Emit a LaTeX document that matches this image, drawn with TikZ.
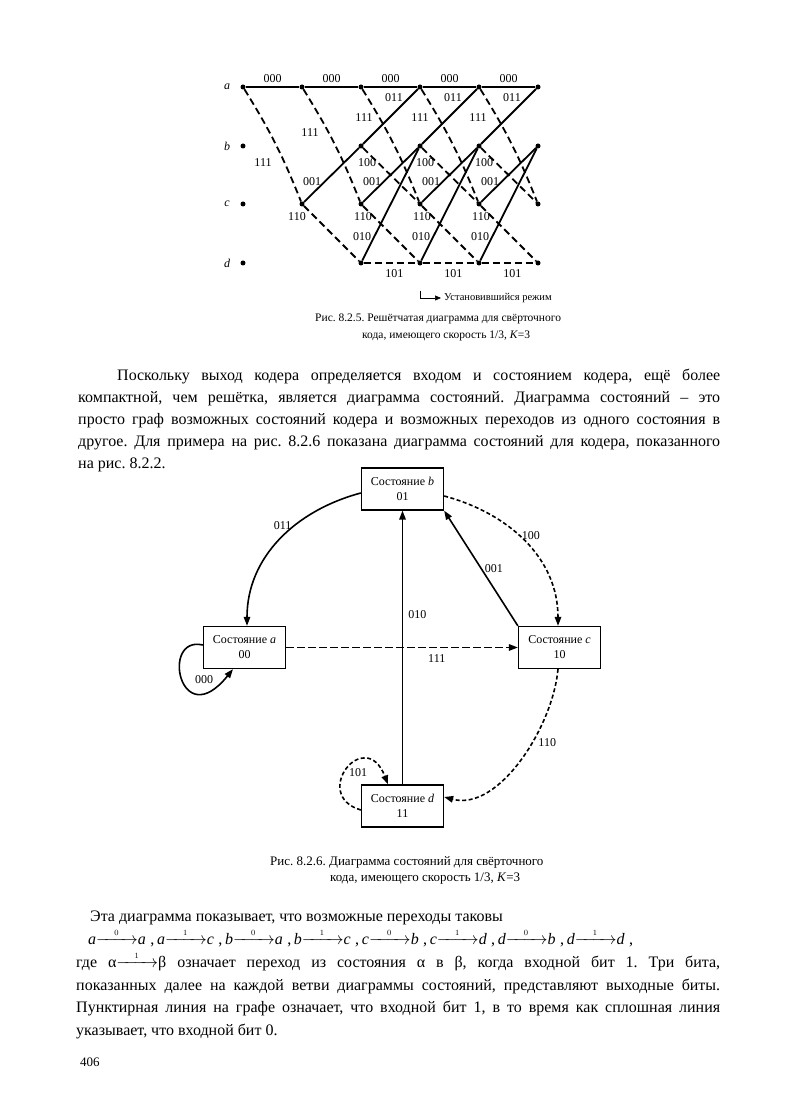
\documentclass[tikz,border=0pt]{standalone}
\usepackage{amsmath}
\usepackage{fontspec}
\setmainfont{Liberation Serif}
\usetikzlibrary{arrows.meta,positioning}
\newcommand{\tr}[1]{$\xrightarrow{\hspace{14.5pt}\scriptscriptstyle #1\hspace{14.5pt}}$}
\frenchspacing

\begin{document}
\begin{tikzpicture}[x=1pt,y=1pt,
  >={Triangle[length=9pt,width=6.5pt]},
  dot/.style={circle,fill,inner sep=0pt,minimum size=5pt},
  tline/.style={line width=1.8pt},
  tdash/.style={line width=1.8pt,dash pattern=on 7pt off 4pt},
  tlbl/.style={font=\fontsize{12}{12}\selectfont,inner sep=0pt},
  rowlbl/.style={font=\fontsize{12}{12}\selectfont\itshape,inner sep=0pt},
  state/.style={draw,line width=1.3pt,minimum width=82pt,minimum height=42pt,
    inner sep=1pt,align=center,font=\fontsize{12}{15}\selectfont},
  edge/.style={line width=1.6pt,->},
  dedge/.style={line width=1.6pt,->,dash pattern=on 4pt off 2.5pt},
  ldedge/.style={line width=1.6pt,->,dash pattern=on 8pt off 3pt},
  body/.style={font=\fontsize{16}{22}\selectfont,inner sep=0pt,anchor=base west},
  caption/.style={font=\fontsize{13}{16}\selectfont,inner sep=0pt,anchor=base west},
]
\useasboundingbox (0,0) rectangle (796,1100);

% --- trellis ---
\foreach \r/\y in {a/1013,b/954,c/896,d/837}
  \foreach \t in {0,2,3,4,5}
    \node[dot] (\r\t) at ({243+59*\t},\y) {};
\node[dot] (a1) at (302,1013) {};
\node[dot] (c1) at (302,896) {};
\foreach \r/\y in {a/1013,b/954,c/896,d/837}
  \node[rowlbl] at (227,\y) {\r};

\foreach \t [count=\u from 1] in {0,...,4}{
  \draw[tline] (a\t) -- node[tlbl,above=3pt] {000} (a\u);
  \draw[tdash] (a\t) to[bend left=5] (c\u);
}
\foreach \t [count=\u from 2] in {1,...,4}{
  \draw[tline] (c\t) -- (b\u);
  \draw[tdash] (c\t) -- (d\u);
}
\foreach \t [count=\u from 3] in {2,3,4}{
  \draw[tline] (b\t) -- (a\u);
  \draw[tdash] (b\t) -- (c\u);
  \draw[tline] (d\t) -- (b\u);
  \draw[tdash] (d\t) -- node[tlbl,pos=0.57,below=6pt] {101} (d\u);
}
% branch labels
\foreach \x/\y in {263/937,310/967,364/982,420/982,478/982}
  \node[tlbl] at (\x,\y) {111};
\foreach \x in {394,453,512} \node[tlbl] at (\x,1002) {011};
\foreach \x in {367,425,484} \node[tlbl] at (\x,937) {100};
\foreach \x in {312,372,431,490} \node[tlbl] at (\x,918) {001};
\foreach \x in {297,363,422,481} \node[tlbl] at (\x,883) {110};
\foreach \x in {362,421,480} \node[tlbl] at (\x,863) {010};

% steady state marker
\coordinate (ss) at (420,809);
\node[anchor=west,font=\fontsize{10.5}{12}\selectfont,inner sep=0pt] (steady) at (444,802) {Установившийся режим};
\draw[line width=0.6pt,-{Triangle[length=6pt,width=5pt]}] (ss) |- ([xshift=-3pt]steady.west);

\node[caption,font=\fontsize{11.5}{14}\selectfont] (cap1) at (315,778) {Рис. 8.2.5. Решётчатая диаграмма для свёрточного};
\node[caption,font=\fontsize{11.5}{14}\selectfont] (cap1b) at (362,761) {кода, имеющего скорость 1/3, \textit{K}=3};

% --- text ---
\node[body,text width=642pt,align=justify] (par1) at (78,719) {\hspace*{39pt}Поскольку
выход кодера определяется входом и состоянием кодера, ещё более\linebreak
компактной, чем решётка, является диаграмма состояний. Диаграмма состояний – это\linebreak
просто граф возможных состояний кодера и возможных переходов из одного состояния в\linebreak
другое. Для примера на рис. 8.2.6 показана диаграмма состояний для кодера, показанного\linebreak
на рис. 8.2.2.};

% --- state diagram ---
\node[state] (sb) at (402.5,611) {Состояние \textit{b}\\01};
\node[state] (sa) at (244.5,452.5) {Состояние \textit{a}\\00};
\node[state] (sc) at (559.5,452.5) {Состояние \textit{c}\\10};
\node[state] (sd) at (402.5,294) {Состояние \textit{d}\\11};

\draw[edge] ([yshift=-4pt]sb.west) to[out=195,in=90]
  node[tlbl,pos=0.38,left=3pt] {011} ([xshift=2.5pt]sa.north);
\draw[dedge] ([yshift=-7pt]sb.east) to[out=-15,in=90]
  node[tlbl,pos=0.45,right=2pt] {100} ([xshift=-1.5pt]sc.north);
\draw[edge] (sc.north west) -- node[tlbl,right=3pt] {001} (sb.south east);
\draw[edge] (sd.north) -- node[tlbl,pos=0.62,right=5pt] {010} (sb.south);
\draw[ldedge] (sa.east) -- node[tlbl,pos=0.65,below=6pt] {111} (sc.west);
\draw[edge] ([yshift=2.5pt]sa.west) .. controls (160,465) and (180,365) .. ([xshift=-11.5pt]sa.south);
\node[tlbl] (l000) at (204,420) {000};
\draw[dedge] ([xshift=-1.5pt]sc.south) to[out=-95,in=-15,looseness=0.85]
  node[tlbl,pos=0.4,right=6pt] {110} ([yshift=9pt]sd.east);
\draw[dedge] ([yshift=-4pt]sd.west) .. controls (310,305) and (365,375) .. ([xshift=-14.5pt]sd.north);
\node[tlbl] (l101) at (358,327) {101};

\node[caption] (cap2) at (270,234) {Рис. 8.2.6. Диаграмма состояний для свёрточного};
\node[caption] (cap2b) at (330,218) {кода, имеющего скорость 1/3, \textit{K}=3};

% --- text below ---
\node[body] (intro) at (90,178) {Эта диаграмма показывает, что возможные переходы таковы};
\node[body] (trans) at (88,155) {\textit{a}\tr{0}\textit{a}\;,\,\textit{a}\tr{1}\textit{c}\;,\,\textit{b}\tr{0}\textit{a}\;,\,\textit{b}\tr{1}\textit{c}\;,\,\textit{c}\tr{0}\textit{b}\;,\,\textit{c}\tr{1}\textit{d}\;,\,\textit{d}\tr{0}\textit{b}\;,\,\textit{d}\tr{1}\textit{d}\;,};
\node[body,font=\fontsize{16}{22.4}\selectfont,text width=644pt,align=justify] (par2) at (76,132) {где
α\tr{1}β означает переход из состояния α в β, когда входной бит 1. Три бита,\linebreak
показанных далее на каждой ветви диаграммы состояний, представляют выходные биты.\linebreak
Пунктирная линия на графе означает, что входной бит 1, в то время как сплошная линия\linebreak
указывает, что входной бит 0.};
\node[body,font=\fontsize{13}{15}\selectfont] (page) at (80,33) {406};
\end{tikzpicture}
\end{document}
